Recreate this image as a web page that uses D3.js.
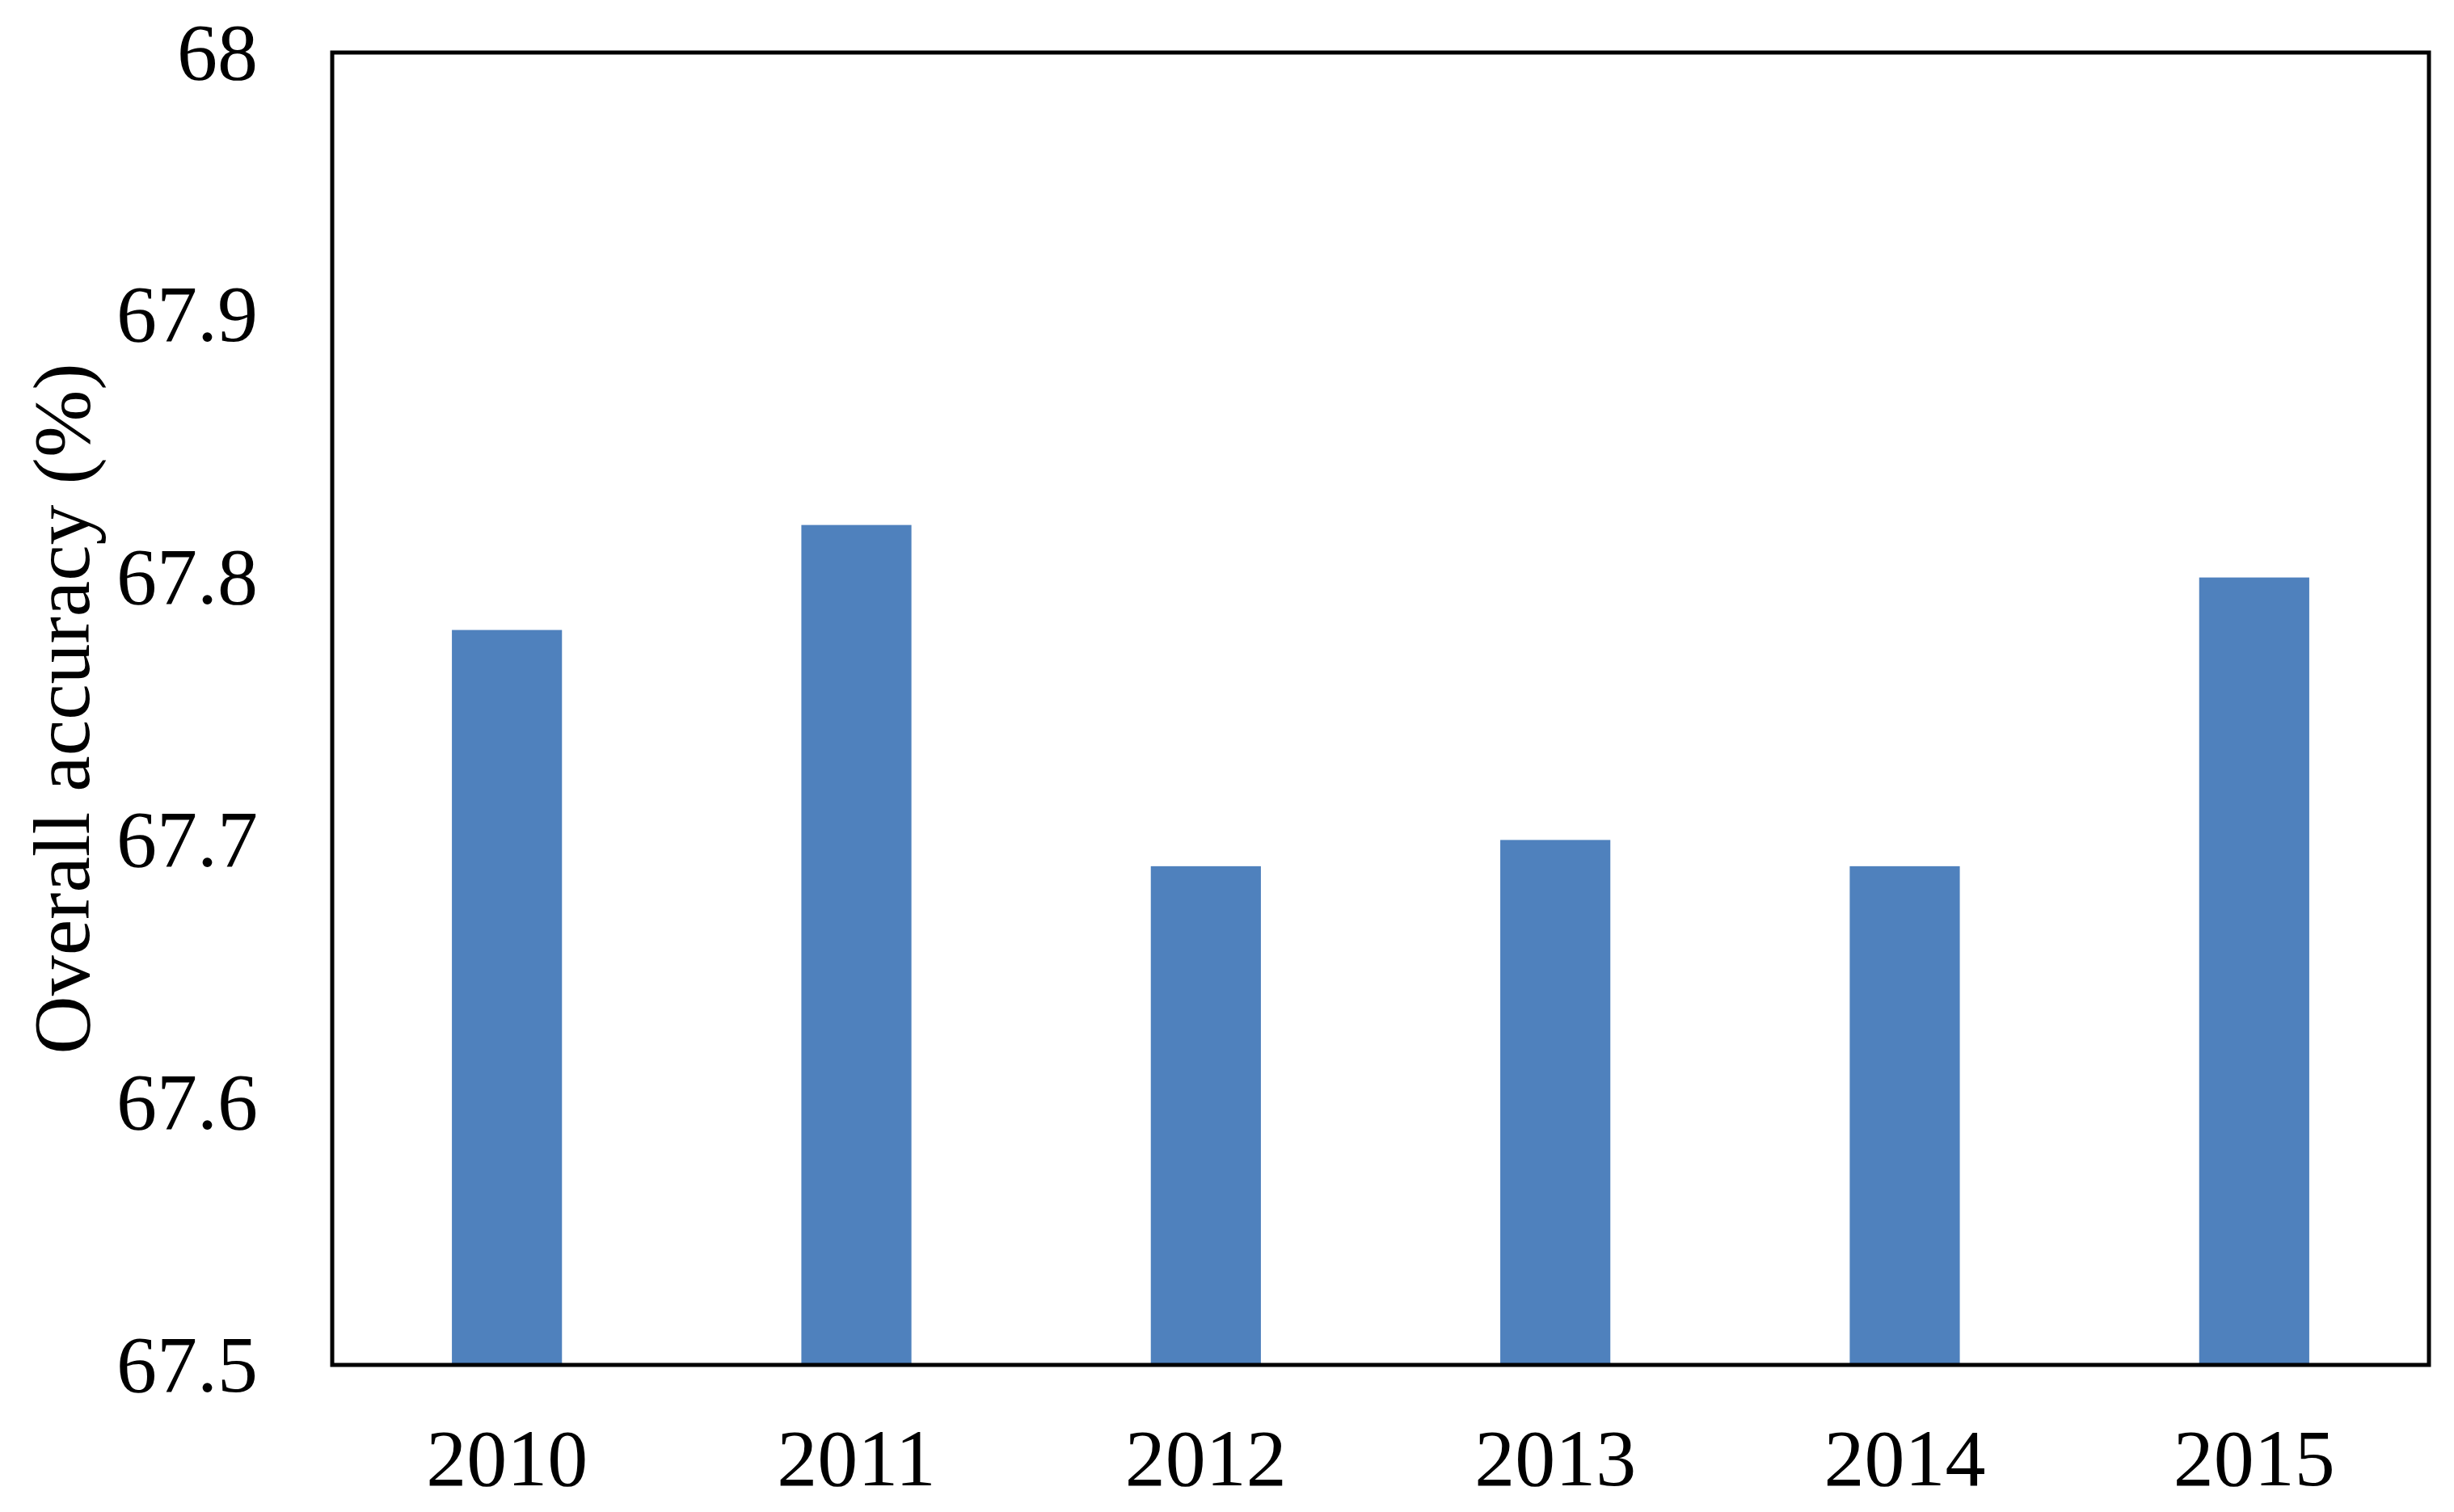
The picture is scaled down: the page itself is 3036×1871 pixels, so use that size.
<!DOCTYPE html>
<html>
<head>
<meta charset="utf-8">
<script src="https://cdn.jsdelivr.net/npm/d3@7"></script>
<style>
  html, body { margin: 0; padding: 0; background: #fff; }
  svg { display: block; }
  text { font-family: "Liberation Serif", "Times New Roman", serif; }
</style>
</head>
<body>
<svg id="chart" width="3036" height="1871"></svg>
<script>
const years = ["2010", "2011", "2012", "2013", "2014", "2015"];
const accuracy = [67.78, 67.82, 67.69, 67.70, 67.69, 67.80];
const yTickValues = [67.5, 67.6, 67.7, 67.8, 67.9, 68.0];
const yTickLabels = ["67.5", "67.6", "67.7", "67.8", "67.9", "68"];
const yTitle = "Overall accuracy (%)";

const svg = d3.select("#chart");
const W = 3036, H = 1871;
const plot = { left: 411, top: 65, right: 3005, bottom: 1689 };

svg.append("rect").attr("x", 0).attr("y", 0).attr("width", W).attr("height", H).attr("fill", "#fff");

const x = d3.scaleBand()
  .domain(years)
  .range([plot.left, plot.right])
  .paddingInner(0.685)
  .paddingOuter(0.3425);

const y = d3.scaleLinear()
  .domain([67.5, 68.0])
  .range([plot.bottom, plot.top]);

// bars
svg.append("g").selectAll("rect")
  .data(years.map((yr, i) => ({ yr, v: accuracy[i] })))
  .join("rect")
  .attr("x", d => x(d.yr))
  .attr("width", x.bandwidth())
  .attr("y", d => y(d.v))
  .attr("height", d => y(67.5) - y(d.v))
  .attr("fill", "#4f81bd");

// y axis
const yAxis = d3.axisLeft(y)
  .tickValues(yTickValues)
  .tickFormat((d, i) => yTickLabels[i])
  .tickSize(0)
  .tickPadding(92);
const gy = svg.append("g").attr("transform", `translate(${plot.left},0)`).call(yAxis);
gy.select(".domain").remove();
gy.selectAll("text").attr("font-size", 100).attr("font-family", "Liberation Serif").attr("fill", "#000");

// x axis
const xAxis = d3.axisBottom(x).tickSize(0).tickPadding(78);
const gx = svg.append("g").attr("transform", `translate(0,${plot.bottom})`).call(xAxis);
gx.select(".domain").remove();
gx.selectAll("text").attr("font-size", 100).attr("font-family", "Liberation Serif").attr("fill", "#000");

// frame
svg.append("rect")
  .attr("x", plot.left).attr("y", plot.top)
  .attr("width", plot.right - plot.left).attr("height", plot.bottom - plot.top)
  .attr("fill", "none").attr("stroke", "#000").attr("stroke-width", 5);

// y title
svg.append("text")
  .attr("transform", `translate(110,${(plot.top + plot.bottom) / 2}) rotate(-90)`)
  .attr("text-anchor", "middle")
  .attr("font-size", 100)
  .attr("fill", "#000")
  .text(yTitle);
</script>
</body>
</html>
